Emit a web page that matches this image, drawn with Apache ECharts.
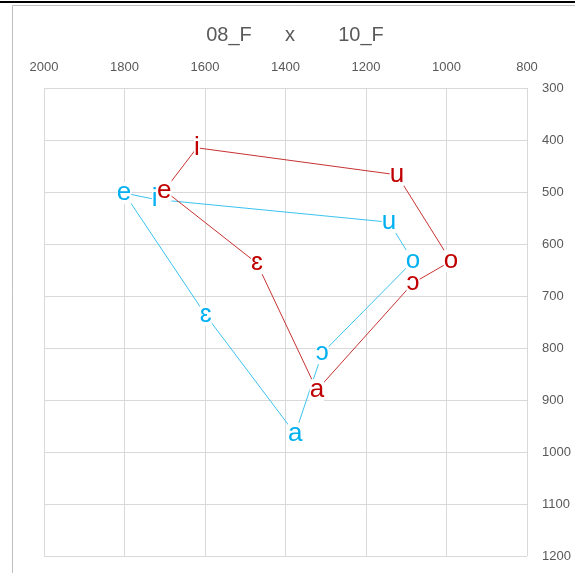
<!DOCTYPE html>
<html>
<head>
<meta charset="utf-8">
<script src="https://cdn.jsdelivr.net/npm/echarts@6/dist/echarts.min.js"></script>
<style>
  html, body { margin: 0; padding: 0; background: #fff; }
  #chart { width: 575px; height: 573px; }
</style>
</head>
<body>
<div id="chart"></div>
<script>
// Vowel formant chart: F2 (Hz) across the top, F1 (Hz) down the right side.
const titleParts = ['08_F', 'x', '10_F'];

const xTicks = [2000, 1800, 1600, 1400, 1200, 1000, 800];
const yTicks = [300, 400, 500, 600, 700, 800, 900, 1000, 1100, 1200];

// Speaker 08_F (blue)
const vowels08 = ['i', 'u', 'o', 'ɔ', 'a', 'ɛ', 'e'];
const f2_08 = [1725, 1143, 1083, 1309, 1376, 1598, 1801];
const f1_08 = [514, 558, 633, 810, 965, 737, 502];

// Speaker 10_F (red)
const vowels10 = ['i', 'u', 'o', 'ɔ', 'a', 'ɛ', 'e'];
const f2_10 = [1620, 1123, 989, 1083, 1322, 1471, 1701];
const f1_10 = [415, 467, 633, 675, 881, 637, 497];

// Closed polygon: repeat the first vowel at the end without a second label.
function polygon(vowels, f2, f1) {
  const pts = vowels.map((v, i) => ({ value: [f2[i], f1[i]], name: v }));
  pts.push({ value: [f2[0], f1[0]], name: vowels[0], label: { show: false } });
  return pts;
}

function vowelSeries(name, vowels, f2, f1, lineColor, textColor) {
  return {
    name: name,
    type: 'line',
    data: polygon(vowels, f2, f1),
    symbol: 'circle',
    symbolSize: 1,
    itemStyle: { color: 'rgba(0,0,0,0)' },
    lineStyle: { color: lineColor, width: 1 },
    emphasis: { disabled: true },
    animation: false,
    label: {
      show: true,
      position: 'inside',
      formatter: p => p.name,
      color: textColor,
      fontFamily: 'Liberation Sans',
      fontSize: 26,
      lineHeight: 22,
      backgroundColor: '#fff',
      padding: 0
    }
  };
}

const chart = echarts.init(document.getElementById('chart'), null, { renderer: 'canvas' });

const axisText = { color: '#595959', fontFamily: 'Liberation Sans', fontSize: 13 };

chart.setOption({
  animation: false,
  backgroundColor: '#fff',
  graphic: [
    { type: 'rect', shape: { x: 0, y: 1, width: 575, height: 2 }, style: { fill: '#000' }, silent: true },
    { type: 'polyline', shape: { points: [[12.5, 573], [12.5, 5.5], [580, 5.5]] },
      style: { stroke: '#BFBFBF', lineWidth: 1, fill: null }, silent: true },
    { type: 'text', x: 229, y: 35, style: { text: titleParts[0], align: 'center', verticalAlign: 'middle',
      fill: '#595959', font: '20px "Liberation Sans"' } },
    { type: 'text', x: 290, y: 35, style: { text: titleParts[1], align: 'center', verticalAlign: 'middle',
      fill: '#595959', font: '20px "Liberation Sans"' } },
    { type: 'text', x: 361, y: 35, style: { text: titleParts[2], align: 'center', verticalAlign: 'middle',
      fill: '#595959', font: '20px "Liberation Sans"' } }
  ],
  grid: { left: 44, right: 48, top: 88, bottom: 17, containLabel: false },
  xAxis: {
    type: 'value',
    position: 'top',
    inverse: true,
    min: 800, max: 2000, interval: 200,
    axisLine: { show: false },
    axisTick: { show: false },
    axisLabel: Object.assign({ margin: 14, formatter: v => xTicks.includes(v) ? String(v) : '' }, axisText),
    splitLine: { show: true, lineStyle: { color: '#D9D9D9', width: 1 } }
  },
  yAxis: {
    type: 'value',
    position: 'right',
    inverse: true,
    min: 300, max: 1200, interval: 100,
    axisLine: { show: false },
    axisTick: { show: false },
    axisLabel: Object.assign({ margin: 15, formatter: v => yTicks.includes(v) ? String(v) : '' }, axisText),
    splitLine: { show: true, lineStyle: { color: '#D9D9D9', width: 1 } }
  },
  series: [
    vowelSeries('08_F', vowels08, f2_08, f1_08, '#3CC3F0', '#00B0F0'),
    vowelSeries('10_F', vowels10, f2_10, f1_10, '#C83232', '#C00000')
  ]
});
</script>
</body>
</html>
